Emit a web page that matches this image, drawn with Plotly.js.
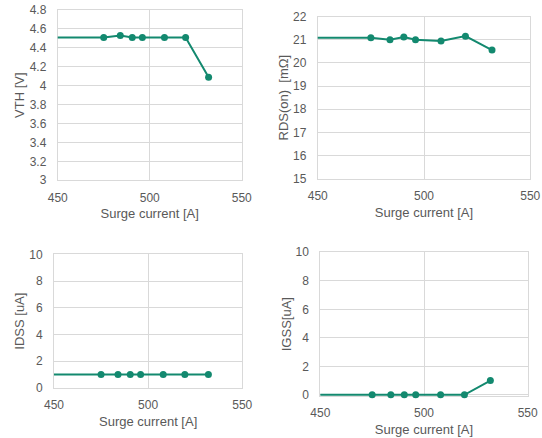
<!DOCTYPE html>
<html>
<head>
<meta charset="utf-8">
<script src="https://cdn.plot.ly/plotly-3.0.1.min.js"></script>
<style>html,body{margin:0;padding:0;background:#fff;}#chart{width:542px;height:438px;}</style>
</head>
<body>
<div id="chart"></div>
<script>
// Surge current [A] (first entry is the initial value, off the visible range)
const surgeCurrent = [0, 475, 484, 490.5, 496, 508, 519.5, 532];
const vth   = [4.50, 4.51, 4.53, 4.51, 4.51, 4.51, 4.51, 4.09];
const rdsOn = [21.1, 21.09, 21.0, 21.12, 21.0, 20.95, 21.16, 20.56];
const idss  = [1, 1, 1, 1, 1, 1, 1, 1];
const igss  = [0, 0, 0, 0, 0, 0, 0, 1];

const xTicks = [450, 500, 550];
const yTitles = ['VTH [V]', 'RDS(on)  [mΩ]', 'IDSS [uA]', 'IGSS[uA]'];
const xTitle = 'Surge current [A]';

const teal = '#13896f';
const grey = '#595959';
const grid = '#d9d9d9';
const fnt = {family: 'Liberation Sans, Arial, sans-serif', size: 12, color: grey};

function trace(y, n) {
  return {
    x: surgeCurrent, y: y, type: 'scatter', mode: 'lines+markers',
    xaxis: 'x' + (n === 1 ? '' : n), yaxis: 'y' + (n === 1 ? '' : n),
    line: {color: teal, width: 2},
    marker: {color: teal, size: 7},
    showlegend: false, cliponaxis: false
  };
}
const data = [trace(vth, 1), trace(rdsOn, 2), trace(idss, 3), trace(igss, 4)];

function xa(domain, anchor) {
  return {
    domain: domain, anchor: anchor, range: [450, 550], tickvals: xTicks,
    showgrid: true, gridcolor: grid, gridwidth: 1, zeroline: false,
    showline: true, linecolor: grid, linewidth: 1, mirror: true, layer: 'below traces',
    ticks: '', tickfont: fnt, ticklabelstandoff: 6,
    title: {text: xTitle, font: {family: fnt.family, size: 13, color: grey}, standoff: 5}
  };
}
function ya(domain, anchor, range, dtick, title, standoff) {
  return {
    domain: domain, anchor: anchor, range: range, dtick: dtick,
    showgrid: true, gridcolor: grid, gridwidth: 1, zeroline: false,
    showline: true, linecolor: grid, linewidth: 1, mirror: true, layer: 'below traces',
    ticks: '', tickfont: fnt, ticklabelstandoff: 8,
    title: {text: title, font: {family: fnt.family, size: 13, color: grey}, standoff: standoff}
  };
}

const layout = {
  width: 542, height: 438,
  margin: {l: 0, r: 0, t: 0, b: 0},
  paper_bgcolor: '#fff', plot_bgcolor: '#fff',
  showlegend: false,
  xaxis:  xa([0.1065, 0.446], 'y'),
  yaxis:  ya([0.5884, 0.9772], 'x', [3, 4.8], 0.2, yTitles[0], 2),
  xaxis2: xa([0.5862, 0.9784], 'y2'),
  yaxis2: ya([0.592, 0.9619], 'x2', [15, 22], 1, yTitles[1], 1),
  xaxis3: xa([0.0996, 0.447], 'y3'),
  yaxis3: ya([0.1142, 0.4194], 'x3', [0, 10], 2, yTitles[2], 1),
  xaxis4: xa([0.591, 0.9736], 'y4'),
  yaxis4: ya([0.0959, 0.424], 'x4', [-0.08, 10], 2, yTitles[3], 1)
};
Plotly.newPlot('chart', data, layout, {staticPlot: true, displayModeBar: false});
</script>
</body>
</html>
